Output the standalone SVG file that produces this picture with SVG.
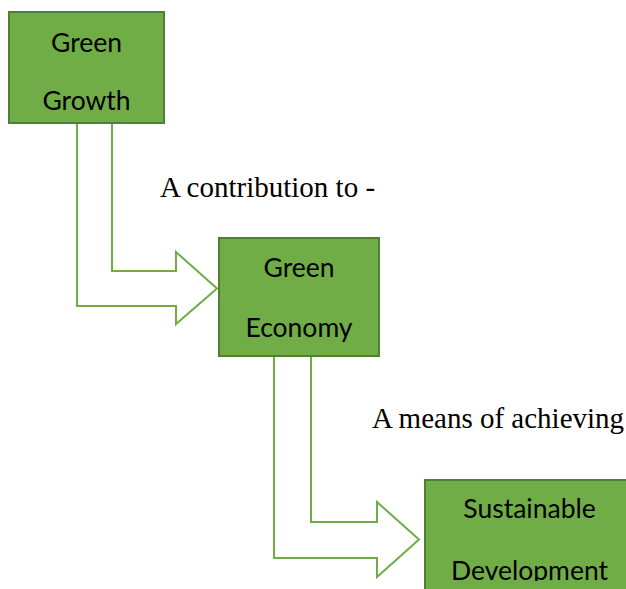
<svg xmlns="http://www.w3.org/2000/svg" width="626" height="589" viewBox="0 0 626 589">
<style>
.box{fill:#70ad47;stroke:#507e32;stroke-width:2}
.lbl{font-family:Lato,"Open Sans","Liberation Sans",sans-serif;font-size:26.5px;fill:#000;text-anchor:middle}
.note{font-family:"Liberation Serif","Times New Roman",serif;font-size:29px;fill:#000}
.arrow{fill:#fff;stroke:#70ad47;stroke-width:2;stroke-linejoin:miter}
</style>
<defs>
<clipPath id="clip3"><rect x="424" y="479" width="210" height="102"/></clipPath>
</defs>
<rect width="626" height="589" fill="#fff"/>
<g id="connectors">
<path class="arrow" d="M77,123 V306 H176 V324 L217,288.5 L176,252 V271 H112 V123"/>
<path class="arrow" d="M274,357 V558 H377 V577 L419,539.5 L377,502 V522 H311 V357"/>
</g>
<g id="node-green-growth">
<rect class="box" x="9" y="12" width="155" height="111"/>
<text class="lbl" x="86.5" y="52">Green</text>
<text class="lbl" x="86.5" y="110">Growth</text>
</g>
<g id="node-green-economy">
<rect class="box" x="219" y="238" width="160" height="118"/>
<text class="lbl" x="299" y="277">Green</text>
<text class="lbl" x="299" y="337">Economy</text>
</g>
<g id="node-sustainable-development">
<rect class="box" x="425" y="480" width="215" height="120"/>
<g clip-path="url(#clip3)">
<text class="lbl" x="529.5" y="518">Sustainable</text>
<text class="lbl" x="529.5" y="580">Development</text>
</g>
</g>
<g id="labels">
<text class="note" x="160" y="197">A contribution to -</text>
<text class="note" x="372" y="428">A means of achieving</text>
</g>
</svg>
